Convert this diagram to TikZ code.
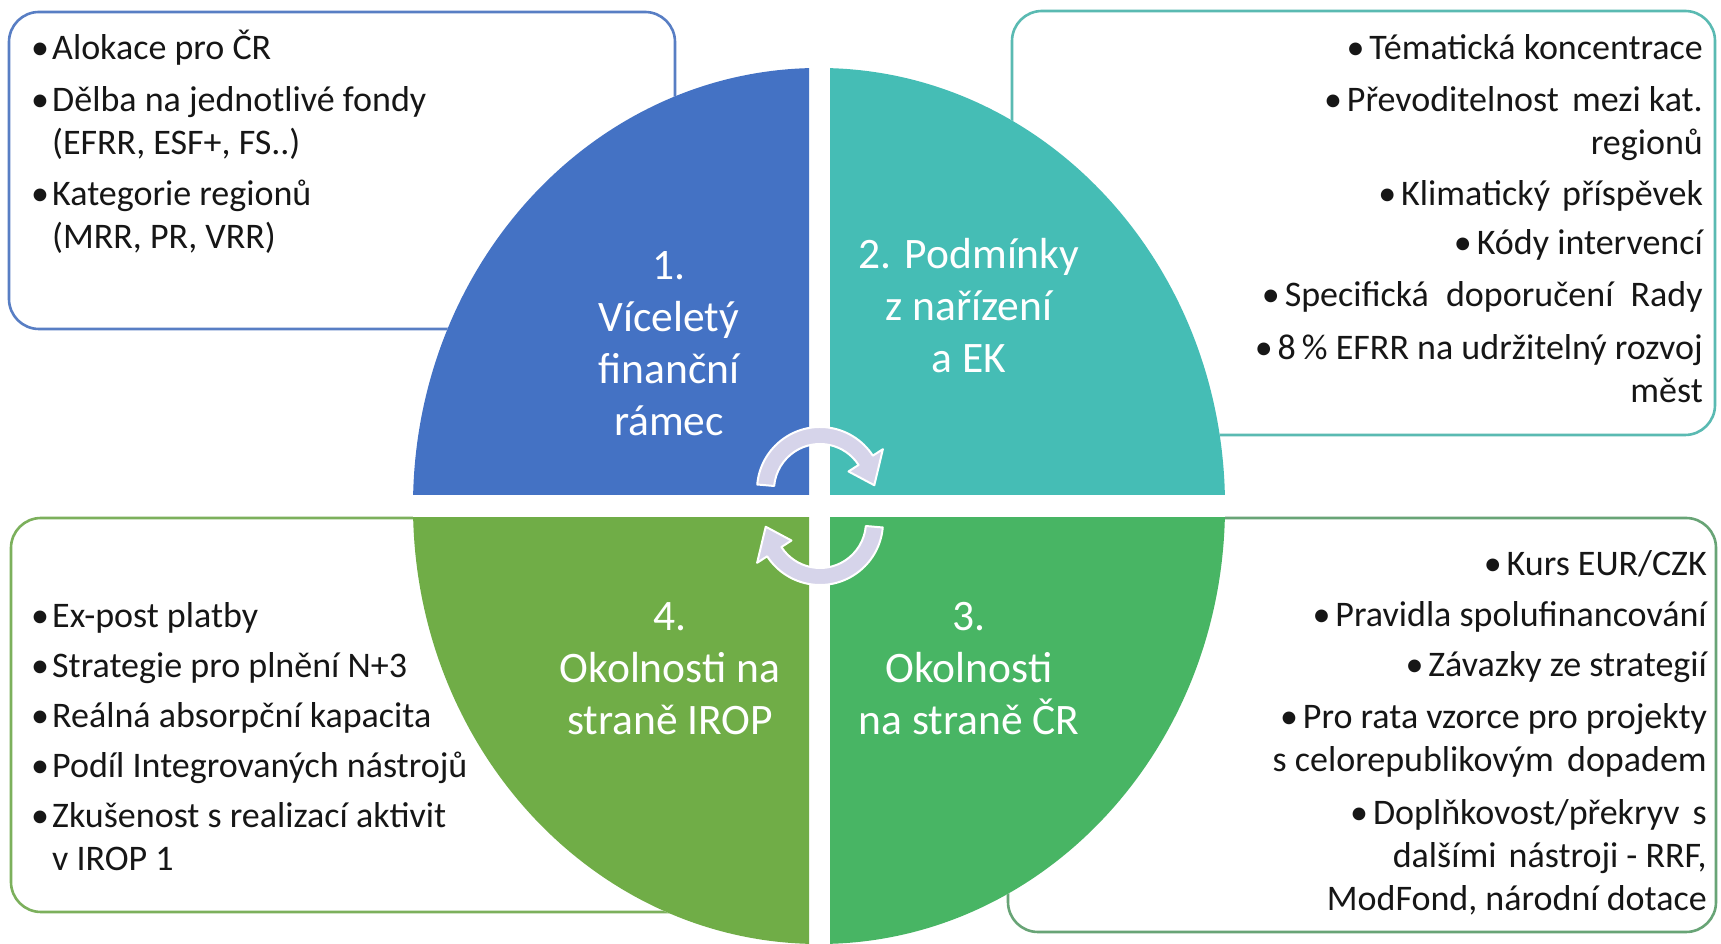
\documentclass[tikz,border=0pt]{standalone}
\usepackage{fontspec}
\setmainfont{Carlito}
\usetikzlibrary{calc}
\definecolor{qblue}{RGB}{68,114,196}
\definecolor{qteal}{RGB}{69,189,181}
\definecolor{qgreenL}{RGB}{112,173,71}
\definecolor{qgreenR}{RGB}{72,181,100}
\definecolor{bblue}{RGB}{88,126,196}
\definecolor{bteal}{RGB}{90,186,178}
\definecolor{bgreenL}{RGB}{124,176,92}
\definecolor{bgreenR}{RGB}{104,164,118}
\definecolor{arrowfill}{RGB}{214,212,234}
\definecolor{txt}{RGB}{22,22,22}
\newcommand\bl{\makebox[21pt][l]{•}}
\newcommand\br{•\hspace{5pt}}
\newcommand\ind{\hspace{21pt}}
\begin{document}
\begin{tikzpicture}[x=1pt,y=1pt,
  infobox/.style={fill=white, line width=2.6pt, rounded corners=30pt},
  bodytext/.style={inner sep=0pt, text=txt, font=\fontsize{36}{43}\selectfont},
  quadtext/.style={inner sep=0pt, text=white, font=\fontsize{43.5}{52}\selectfont},
  arrowshape/.style={fill=arrowfill, draw=white, line width=2pt, line join=round}]
\useasboundingbox (0,0) rectangle (1721,944);
\fill[white] (0,0) rectangle (1721,944);

% side boxes
\draw[infobox, draw=bblue]   (9,932)    rectangle (675,615);
\draw[infobox, draw=bteal]   (1012,933) rectangle (1715,509);
\draw[infobox, draw=bgreenL] (11,426)   rectangle (800,32);
\draw[infobox, draw=bgreenR] (1008,426) rectangle (1716,12);

% central ellipse in four quarters
\coordinate (c) at (819,438);
\fill[white] (c) ellipse [x radius=406, y radius=438];
\begin{scope}
  \clip (0,449) rectangle (809,944);
  \fill[qblue] (c) ellipse [x radius=406, y radius=438];
\end{scope}
\begin{scope}
  \clip (830,449) rectangle (1721,944);
  \fill[qteal] (c) ellipse [x radius=406, y radius=438];
\end{scope}
\begin{scope}
  \clip (0,0) rectangle (809,426);
  \fill[qgreenL] (c) ellipse [x radius=406, y radius=438];
\end{scope}
\begin{scope}
  \clip (830,0) rectangle (1721,426);
  \fill[qgreenR] (c) ellipse [x radius=406, y radius=438];
\end{scope}

% quarter labels
\node[quadtext, anchor=base] (q1) at (669,664) {\begin{tabular}[t]{@{}c@{}}1.\\ Víceletý\\ finanční\\ rámec\end{tabular}};
\node[quadtext, anchor=base] (q2) at (969,675) {\begin{tabular}[t]{@{}c@{}}2. Podmínky\\ z nařízení\\ a EK\end{tabular}};
\node[quadtext, anchor=base] (q4) at (670,313) {\begin{tabular}[t]{@{}c@{}}4.\\ Okolnosti na\\ straně IROP\end{tabular}};
\node[quadtext, anchor=base] (q3) at (969,313) {\begin{tabular}[t]{@{}c@{}}3.\\ Okolnosti\\ na straně ČR\end{tabular}};

% cycle arrows
\coordinate (ca) at (820,454);
\coordinate (cb) at (820,422);
\filldraw[arrowshape] ([shift={(175:63)}]ca) arc[start angle=175, end angle=33, radius=63]
  -- ([shift={(33:75)}]ca) -- ([shift={(5:54.5)}]ca) -- ([shift={(33:34)}]ca)
  -- ([shift={(33:46)}]ca) arc[start angle=33, end angle=175, radius=46] -- cycle;
\filldraw[arrowshape] ([shift={(-5:63)}]cb) arc[start angle=-5, end angle=-147, radius=63]
  -- ([shift={(-147:75)}]cb) -- ([shift={(-175:54.5)}]cb) -- ([shift={(-147:34)}]cb)
  -- ([shift={(-147:46)}]cb) arc[start angle=-147, end angle=-5, radius=46] -- cycle;

% box texts
\node[bodytext, anchor=base west] (t1) at (31,884) {\begin{tabular}[t]{@{}l@{}}\bl Alokace pro ČR\\[9pt]
\bl Dělba na jednotlivé fondy\\ \ind(EFRR, ESF+, FS..)\\[8pt]
\bl Kategorie regionů\\ \ind(MRR, PR, VRR)\end{tabular}};

\node[bodytext, anchor=base east] (t2) at (1703,884) {\begin{tabular}[t]{@{}r@{}}\br Tématická koncentrace\\[9pt]
\br Převoditelnost\hspace{5pt} mezi kat.\\ regionů\\[8pt]
\br Klimatický\hspace{4pt} příspěvek\\[6pt]
\br Kódy intervencí\\[9pt]
\br Specifická\hspace{9pt} doporučení\hspace{9pt} Rady\\[10pt]
\br 8\,\% EFRR na udržitelný rozvoj\\ měst\end{tabular}};

\node[bodytext, anchor=base west] (t4) at (31,316) {\begin{tabular}[t]{@{}l@{}}\bl Ex-post platby\\[7pt]
\bl Strategie pro plnění N+3\\[7pt]
\bl Reálná absorpční kapacita\\[7pt]
\bl Podíl Integrovaných nástrojů\\[7pt]
\bl Zkušenost s realizací aktivit\\ \ind v IROP 1\end{tabular}};

\node[bodytext, anchor=base east] (t3) at (1707,368) {\begin{tabular}[t]{@{}r@{}}\br Kurs EUR/CZK\\[8pt]
\br Pravidla spolufinancování\\[7pt]
\br Závazky ze strategií\\[9pt]
\br Pro rata vzorce pro projekty\\ s celorepublikovým\hspace{5pt} dopadem\\[10pt]
\br Doplňkovost/překryv\hspace{5pt} s\\ dalšími\hspace{4pt} nástroji - RRF,\\ ModFond, národní dotace\end{tabular}};
\end{tikzpicture}
\end{document}
